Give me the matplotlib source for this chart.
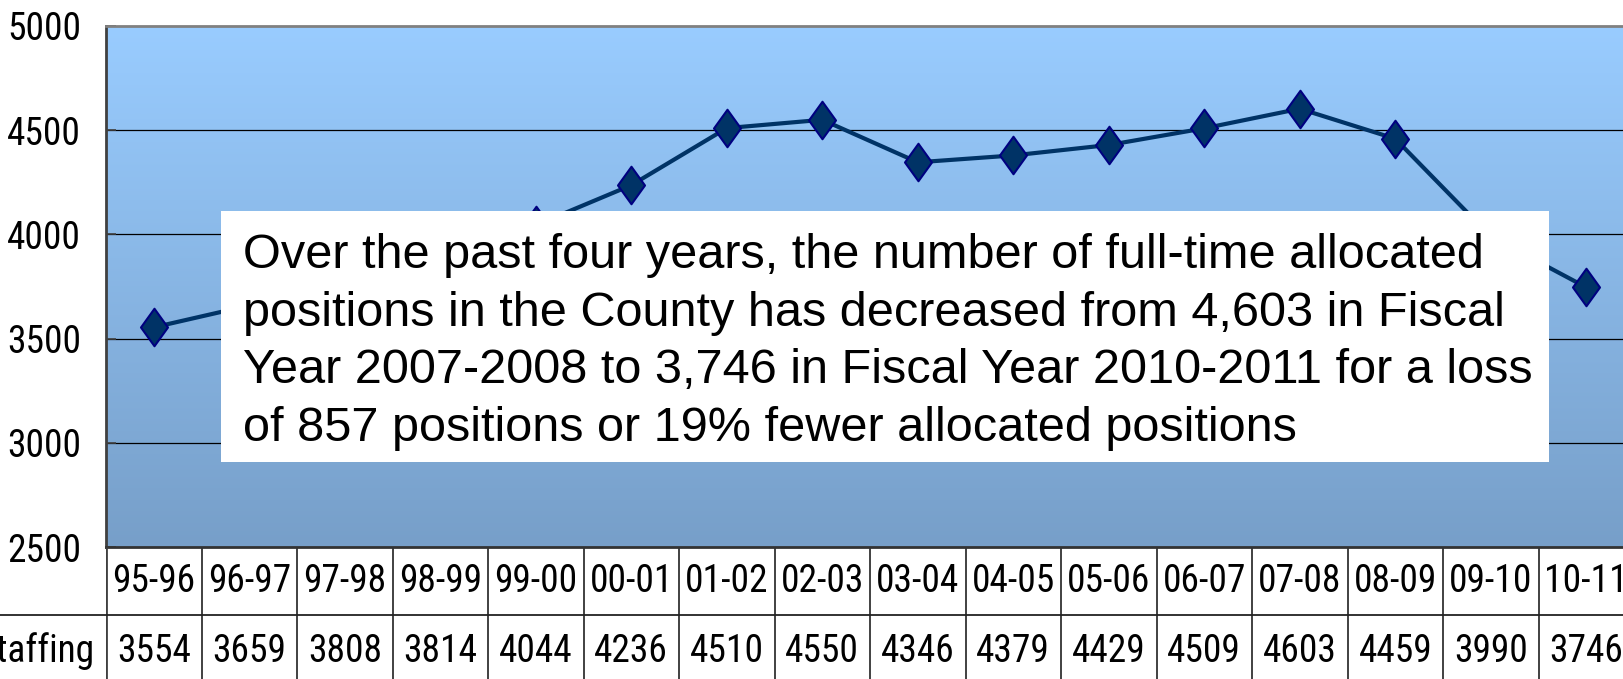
import numpy as np
import matplotlib
matplotlib.use("Agg")
import matplotlib.pyplot as plt
from matplotlib.colors import LinearSegmentedColormap
from matplotlib.path import Path
from matplotlib.patches import Rectangle

# ---- data ----
categories = ["95-96", "96-97", "97-98", "98-99", "99-00", "00-01", "01-02", "02-03",
              "03-04", "04-05", "05-06", "06-07", "07-08", "08-09", "09-10", "10-11"]
staffing = [3554, 3659, 3808, 3814, 4044, 4236, 4510, 4550,
            4346, 4379, 4429, 4509, 4603, 4459, 3990, 3746]
series_label = "Staffing"
y_ticks = [2500, 3000, 3500, 4000, 4500, 5000]
note = ("Over the past four years, the number of full-time allocated\n"
        "positions in the County has decreased from 4,603 in Fiscal\n"
        "Year 2007-2008 to 3,746 in Fiscal Year 2010-2011 for a loss\n"
        "of 857 positions or 19% fewer allocated positions")

narrow = ["Roboto Condensed", "Liberation Sans"]
regular = ["Liberation Sans", "DejaVu Sans"]
fs_small = 27

W, H = 1623, 679
fig = plt.figure(figsize=(W / 100, H / 100), dpi=100)
fig.patch.set_facecolor("white")

ax_left, ax_right = 106, 1634
ax_top, ax_bot = 26, 547
row_h = 68

ax = fig.add_axes([ax_left / W, 1 - ax_bot / H, (ax_right - ax_left) / W, (ax_bot - ax_top) / H])
x = np.arange(len(categories))
ax.set_xlim(-0.5, len(categories) - 0.5)
ax.set_ylim(y_ticks[0], y_ticks[-1])

# gradient background
cmap = LinearSegmentedColormap.from_list("bg", ["#99CCFF", "#779FC9"])
grad = np.linspace(0, 1, 256).reshape(-1, 1)
ax.imshow(grad, extent=[-0.5, len(categories) - 0.5, y_ticks[0], y_ticks[-1]],
          aspect="auto", cmap=cmap, zorder=0, origin="upper")

for yv in y_ticks[1:-1]:
    ax.axhline(yv, color="black", lw=0.9, zorder=1)

diamond = Path([(0, 1), (0.72, 0), (0, -1), (-0.72, 0), (0, 1)],
               [Path.MOVETO, Path.LINETO, Path.LINETO, Path.LINETO, Path.CLOSEPOLY])
ax.plot(x, staffing, color="#003366", lw=3, zorder=3, marker=diamond, ms=27,
        mfc="#003366", mec="#000080", mew=1.5)

ax.set_yticks(y_ticks)
ax.set_yticklabels([str(v) for v in y_ticks], family=narrow, fontsize=fs_small)
ax.tick_params(axis="y", direction="in", length=7, width=1.2, color="#404040", pad=18)
ax.set_xticks([])
ax.spines["right"].set_visible(False)
ax.spines["top"].set_color("#808080")
ax.spines["top"].set_linewidth(2)
ax.spines["left"].set_color("#404040")
ax.spines["left"].set_linewidth(2)
ax.spines["bottom"].set_color("#333333")
ax.spines["bottom"].set_linewidth(2)

# ---- data table ----
axt = fig.add_axes([ax_left / W, 1 - (ax_bot + 2 * row_h) / H, (ax_right - ax_left) / W, 2 * row_h / H])
axt.set_xlim(-0.5, len(categories) - 0.5)
axt.set_ylim(0, 2)
axt.axis("off")
axt.vlines(np.arange(len(categories) + 1) - 0.5, 0, 2, colors="#333333", lw=1.3)
axt.vlines([-0.5], 0, 2, colors="#404040", lw=2)
axt.axhline(1, xmin=-0.08, xmax=1, color="#222222", lw=1.3, clip_on=False)
for i, (c, v) in enumerate(zip(categories, staffing)):
    axt.text(i, 1.5, c, ha="center", va="center", family=narrow, fontsize=fs_small)
    axt.text(i, 0.47, str(v), ha="center", va="center", family=narrow, fontsize=fs_small)
axt.text(-0.62, 0.47, series_label, ha="right", va="center", family=narrow, fontsize=fs_small,
         clip_on=False)

# ---- note box ----
bx0, bx1, by0, by1 = 221, 1549, 211, 462
fig.patches.append(Rectangle((bx0 / W, 1 - by1 / H), (bx1 - bx0) / W, (by1 - by0) / H,
                             transform=fig.transFigure, facecolor="white", edgecolor="none",
                             zorder=5))
fig.text(243 / W, 1 - 342 / H, note, ha="left", va="center", family=regular,
         fontsize=35, linespacing=1.36, zorder=6)

fig.savefig("out.png", dpi=100)
